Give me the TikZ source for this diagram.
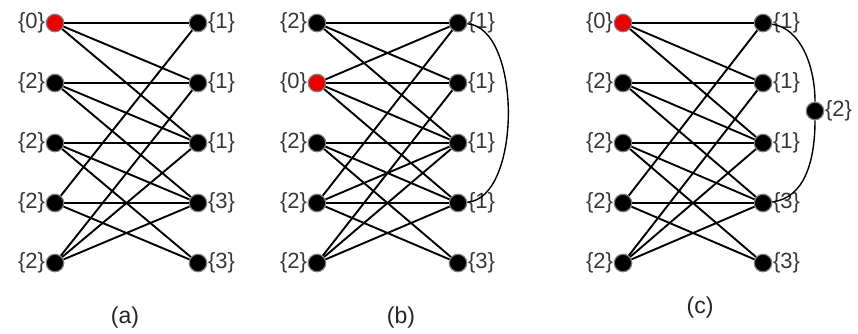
\documentclass[tikz,border=0pt]{standalone}
\usepackage{fontspec}
\setmainfont{Liberation Sans}
\begin{document}
\begin{tikzpicture}[x=1pt,y=-1pt,
  vtx/.style={circle,fill=black,draw=black!50,line width=1.2pt,minimum size=17.5pt,inner sep=0pt},
  redvtx/.style={vtx,fill=red!92!black},
  lbl/.style={font=\fontsize{22}{22}\selectfont,text=black!78,inner sep=0.5pt},
  edge/.style={line width=1.9pt},
  arcedge/.style={line width=1.4pt},
  captxt/.style={font=\fontsize{23}{23}\selectfont,text=black!85}]
\useasboundingbox (0,0) rectangle (858,333);

% ---------- panel (a)
\foreach \i/\y/\s/\t in {0/23/redvtx/0,1/83/vtx/2,2/143/vtx/2,3/203/vtx/2,4/263/vtx/2}{
  \node[\s] (aL\i) at (55,\y) {};
  \node[lbl,anchor=east] (aLl\i) at (aL\i.west) {\{\t\}};
}
\foreach \i/\y/\t in {0/23/1,1/83/1,2/143/1,3/203/3,4/263/3}{
  \node[vtx] (aR\i) at (198,\y) {};
  \node[lbl,anchor=west] (aRl\i) at (aR\i.east) {\{\t\}};
}
\foreach \a/\b in {0/0,0/1,0/2,1/1,1/2,1/3,2/2,2/3,2/4,3/0,3/3,3/4,4/1,4/2,4/3}
  \draw[edge] (aL\a) -- (aR\b);
\node[captxt] (capa) at (125,318) {(a)};

% ---------- panel (b)
\foreach \i/\y/\s/\t in {0/23/vtx/2,1/83/redvtx/0,2/143/vtx/2,3/203/vtx/2,4/263/vtx/2}{
  \node[\s] (bL\i) at (317,\y) {};
  \node[lbl,anchor=east] (bLl\i) at (bL\i.west) {\{\t\}};
}
\foreach \i/\y/\t in {0/23/1,1/83/1,2/143/1,3/203/1,4/263/3}{
  \node[vtx] (bR\i) at (458,\y) {};
  \node[lbl,anchor=west] (bRl\i) at (bR\i.east) {\{\t\}};
}
\foreach \a/\b in {0/0,0/1,0/2,1/0,1/1,1/2,1/3,2/2,2/3,2/4,3/0,3/2,3/3,3/4,4/1,4/2,4/3}
  \draw[edge] (bL\a) -- (bR\b);
\draw[arcedge] (bR0) .. controls (522,28) and (522,198) .. (bR3);
\node[captxt] (capb) at (401,318) {(b)};

% ---------- panel (c)
\foreach \i/\y/\s/\t in {0/23/redvtx/0,1/83/vtx/2,2/143/vtx/2,3/203/vtx/2,4/263/vtx/2}{
  \node[\s] (cL\i) at (623,\y) {};
  \node[lbl,anchor=east] (cLl\i) at (cL\i.west) {\{\t\}};
}
\foreach \i/\y/\t in {0/23/1,1/83/1,2/143/1,3/203/3,4/263/3}{
  \node[vtx] (cR\i) at (763,\y) {};
  \node[lbl,anchor=west] (cRl\i) at (cR\i.east) {\{\t\}};
}
\node[vtx] (cX) at (815,111) {};
\node[lbl,anchor=west] (cXl) at (cX.east) {\{2\}};
\foreach \a/\b in {0/0,0/1,0/2,1/1,1/2,1/3,2/2,2/3,2/4,3/0,3/3,3/4,4/1,4/2,4/3}
  \draw[edge] (cL\a) -- (cR\b);
\draw[arcedge] (cR0) .. controls (800,28) and (815,65) .. (cX);
\draw[arcedge] (cX) .. controls (815,160) and (805,198) .. (cR3);
\node[captxt] (capc) at (700,308) {(c)};
\end{tikzpicture}
\end{document}
